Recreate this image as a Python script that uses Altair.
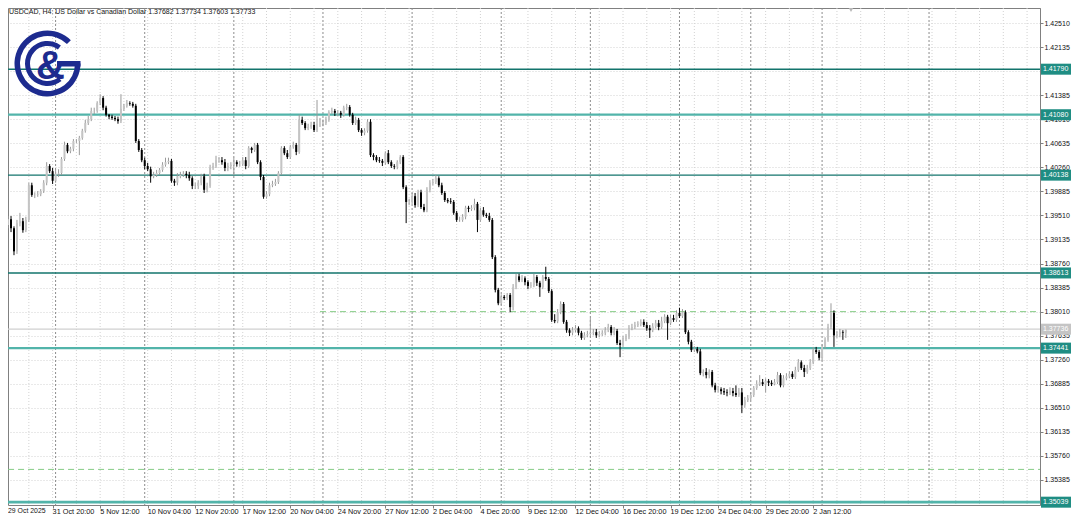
import altair as alt
import pandas as pd

# ---------------- data (USDCAD H4) ----------------
first_open = 1.3936
closes = [
    1.3945, 1.3931, 1.3895, 1.3939, 1.3942, 1.3928, 1.3944, 1.3998, 1.3983, 1.3983,
    1.3984, 1.3989, 1.4002, 1.4028, 1.4020, 1.4005, 1.4016, 1.4017, 1.4039, 1.4061,
    1.4051, 1.4055, 1.4067, 1.4067, 1.4072, 1.4083, 1.4095, 1.4101, 1.4114, 1.4114,
    1.4126, 1.4134, 1.4119, 1.4108, 1.4105, 1.4103, 1.4101, 1.4098, 1.4117, 1.4122,
    1.4126, 1.4125, 1.4122, 1.4067, 1.4053, 1.4037, 1.4028, 1.4023, 1.4012, 1.4014,
    1.4017, 1.4022, 1.4030, 1.4034, 1.4036, 1.4005, 1.4002, 1.4012, 1.4014, 1.4016,
    1.4014, 1.4009, 1.3997, 1.3997, 1.4002, 1.4012, 1.3991, 1.3997, 1.4025, 1.4028,
    1.4037, 1.4037, 1.4034, 1.4025, 1.4028, 1.4030, 1.4034, 1.4031, 1.4031, 1.4037,
    1.4028, 1.4056, 1.4053, 1.4061, 1.4034, 1.4011, 1.3980, 1.3984, 1.3998, 1.4000,
    1.4003, 1.4017, 1.4056, 1.4048, 1.4042, 1.4058, 1.4061, 1.4050, 1.4100, 1.4095,
    1.4087, 1.4089, 1.4092, 1.4084, 1.4094, 1.4094, 1.4095, 1.4100, 1.4112, 1.4114,
    1.4111, 1.4111, 1.4108, 1.4119, 1.4120, 1.4108, 1.4095, 1.4100, 1.4084, 1.4080,
    1.4083, 1.4097, 1.4045, 1.4042, 1.4037, 1.4036, 1.4033, 1.4048, 1.4034, 1.4028,
    1.4027, 1.4034, 1.4042, 1.3995, 1.3972, 1.3972, 1.3981, 1.3967, 1.3987, 1.3964,
    1.3959, 1.3991, 1.4002, 1.4003, 1.4009, 1.3998, 1.3986, 1.3975, 1.3973, 1.3972,
    1.3955, 1.3944, 1.3944, 1.3949, 1.3963, 1.3961, 1.3963, 1.3969, 1.3944, 1.3959,
    1.3952, 1.3950, 1.3944, 1.3886, 1.3835, 1.3814, 1.3824, 1.3822, 1.3827, 1.3808,
    1.3839, 1.3856, 1.3850, 1.3853, 1.3847, 1.3841, 1.3842, 1.3855, 1.3846, 1.3839,
    1.3855, 1.3852, 1.3833, 1.3788, 1.3786, 1.3800, 1.3813, 1.3785, 1.3772, 1.3768,
    1.3772, 1.3775, 1.3768, 1.3760, 1.3764, 1.3766, 1.3768, 1.3769, 1.3764, 1.3766,
    1.3768, 1.3772, 1.3777, 1.3768, 1.3771, 1.3752, 1.3749, 1.3758, 1.3761, 1.3775,
    1.3777, 1.3780, 1.3782, 1.3785, 1.3780, 1.3775, 1.3772, 1.3778, 1.3783, 1.3777,
    1.3786, 1.3793, 1.3783, 1.3791, 1.3788, 1.3799, 1.3794, 1.3800, 1.3769, 1.3754,
    1.3741, 1.3743, 1.3739, 1.3705, 1.3707, 1.3702, 1.3707, 1.3686, 1.3679, 1.3680,
    1.3677, 1.3675, 1.3674, 1.3677, 1.3674, 1.3671, 1.3675, 1.3655, 1.3663, 1.3666,
    1.3671, 1.3682, 1.3688, 1.3691, 1.3688, 1.3693, 1.3690, 1.3688, 1.3691, 1.3702,
    1.3686, 1.3697, 1.3700, 1.3704, 1.3699, 1.3710, 1.3722, 1.3713, 1.3707, 1.3713,
    1.3722, 1.3741, 1.3738, 1.3729, 1.3746, 1.3757, 1.3777, 1.3799, 1.3764, 1.3766,
    1.3769, 1.3768, 1.3773,
]
highs = [
    1.3950, 1.3950, 1.3934, 1.3944, 1.3955, 1.3947, 1.3949, 1.4002, 1.4002, 1.3987,
    1.3989, 1.3992, 1.4006, 1.4034, 1.4031, 1.4025, 1.4022, 1.4023, 1.4042, 1.4066,
    1.4064, 1.4058, 1.4070, 1.4070, 1.4075, 1.4086, 1.4100, 1.4106, 1.4119, 1.4119,
    1.4129, 1.4140, 1.4137, 1.4122, 1.4109, 1.4108, 1.4106, 1.4105, 1.4140, 1.4125,
    1.4131, 1.4129, 1.4128, 1.4125, 1.4070, 1.4056, 1.4041, 1.4033, 1.4027, 1.4019,
    1.4022, 1.4025, 1.4034, 1.4041, 1.4041, 1.4039, 1.4008, 1.4017, 1.4019, 1.4020,
    1.4020, 1.4019, 1.4012, 1.4002, 1.4006, 1.4016, 1.4016, 1.4002, 1.4030, 1.4033,
    1.4044, 1.4042, 1.4042, 1.4039, 1.4033, 1.4034, 1.4041, 1.4037, 1.4036, 1.4042,
    1.4042, 1.4059, 1.4058, 1.4064, 1.4064, 1.4037, 1.4014, 1.3989, 1.4002, 1.4005,
    1.4008, 1.4020, 1.4059, 1.4059, 1.4053, 1.4061, 1.4066, 1.4064, 1.4108, 1.4105,
    1.4098, 1.4094, 1.4097, 1.4097, 1.4131, 1.4103, 1.4100, 1.4105, 1.4115, 1.4119,
    1.4117, 1.4115, 1.4114, 1.4122, 1.4125, 1.4123, 1.4111, 1.4105, 1.4103, 1.4087,
    1.4087, 1.4101, 1.4101, 1.4048, 1.4045, 1.4042, 1.4039, 1.4051, 1.4053, 1.4037,
    1.4031, 1.4037, 1.4045, 1.4045, 1.3998, 1.3977, 1.3986, 1.3986, 1.3991, 1.3991,
    1.3969, 1.3995, 1.4006, 1.4008, 1.4014, 1.4012, 1.4002, 1.3989, 1.3978, 1.3978,
    1.3975, 1.3958, 1.3949, 1.3953, 1.3966, 1.3966, 1.3967, 1.3977, 1.3972, 1.3963,
    1.3964, 1.3955, 1.3955, 1.3947, 1.3889, 1.3838, 1.3828, 1.3827, 1.3830, 1.3830,
    1.3844, 1.3860, 1.3860, 1.3858, 1.3856, 1.3850, 1.3847, 1.3860, 1.3858, 1.3849,
    1.3858, 1.3871, 1.3855, 1.3836, 1.3797, 1.3805, 1.3817, 1.3816, 1.3788, 1.3775,
    1.3777, 1.3780, 1.3778, 1.3771, 1.3769, 1.3771, 1.3791, 1.3774, 1.3774, 1.3771,
    1.3772, 1.3777, 1.3782, 1.3780, 1.3777, 1.3774, 1.3757, 1.3763, 1.3766, 1.3780,
    1.3782, 1.3785, 1.3786, 1.3789, 1.3789, 1.3785, 1.3780, 1.3783, 1.3788, 1.3788,
    1.3793, 1.3797, 1.3796, 1.3796, 1.3796, 1.3803, 1.3807, 1.3805, 1.3803, 1.3772,
    1.3757, 1.3747, 1.3746, 1.3743, 1.3711, 1.3713, 1.3711, 1.3710, 1.3690, 1.3685,
    1.3683, 1.3682, 1.3680, 1.3683, 1.3682, 1.3686, 1.3682, 1.3682, 1.3668, 1.3671,
    1.3675, 1.3685, 1.3694, 1.3702, 1.3696, 1.3697, 1.3696, 1.3694, 1.3696, 1.3707,
    1.3705, 1.3702, 1.3705, 1.3708, 1.3708, 1.3715, 1.3727, 1.3725, 1.3718, 1.3718,
    1.3727, 1.3746, 1.3746, 1.3741, 1.3750, 1.3761, 1.3782, 1.3814, 1.3803, 1.3771,
    1.3774, 1.3772, 1.3773,
]
lows = [
    1.3931, 1.3925, 1.3889, 1.3891, 1.3934, 1.3924, 1.3925, 1.3941, 1.3980, 1.3978,
    1.3980, 1.3981, 1.3986, 1.3998, 1.4017, 1.4000, 1.4002, 1.4011, 1.4014, 1.4036,
    1.4048, 1.4048, 1.4051, 1.4064, 1.4045, 1.4069, 1.4080, 1.4092, 1.4098, 1.4109,
    1.4111, 1.4123, 1.4115, 1.4105, 1.4101, 1.4100, 1.4098, 1.4094, 1.4095, 1.4114,
    1.4119, 1.4122, 1.4119, 1.4064, 1.4050, 1.4034, 1.4023, 1.4020, 1.4002, 1.4009,
    1.4011, 1.4014, 1.4019, 1.4027, 1.4031, 1.4002, 1.3997, 1.3998, 1.4009, 1.4011,
    1.4009, 1.4005, 1.3992, 1.3992, 1.3992, 1.3998, 1.3986, 1.3987, 1.3994, 1.4022,
    1.4025, 1.4033, 1.4030, 1.4020, 1.4020, 1.4023, 1.4014, 1.4027, 1.4027, 1.4028,
    1.4023, 1.4025, 1.4048, 1.4050, 1.4031, 1.4006, 1.3977, 1.3977, 1.3981, 1.3995,
    1.3997, 1.4000, 1.4014, 1.4045, 1.4039, 1.4039, 1.4055, 1.4045, 1.4047, 1.4092,
    1.4084, 1.4084, 1.4086, 1.4081, 1.4081, 1.4089, 1.4090, 1.4092, 1.4097, 1.4109,
    1.4106, 1.4106, 1.4103, 1.4105, 1.4115, 1.4105, 1.4092, 1.4092, 1.4081, 1.4075,
    1.4076, 1.4080, 1.4042, 1.4037, 1.4034, 1.4033, 1.4028, 1.4030, 1.4031, 1.4025,
    1.4023, 1.4023, 1.4031, 1.3992, 1.3939, 1.3967, 1.3969, 1.3963, 1.3964, 1.3961,
    1.3956, 1.3956, 1.3987, 1.3998, 1.4000, 1.3995, 1.3983, 1.3972, 1.3970, 1.3969,
    1.3952, 1.3941, 1.3941, 1.3941, 1.3945, 1.3956, 1.3958, 1.3959, 1.3925, 1.3941,
    1.3949, 1.3947, 1.3941, 1.3883, 1.3831, 1.3811, 1.3811, 1.3819, 1.3819, 1.3800,
    1.3803, 1.3836, 1.3847, 1.3847, 1.3842, 1.3836, 1.3838, 1.3839, 1.3841, 1.3824,
    1.3836, 1.3849, 1.3830, 1.3785, 1.3783, 1.3783, 1.3797, 1.3782, 1.3768, 1.3763,
    1.3764, 1.3769, 1.3764, 1.3757, 1.3757, 1.3761, 1.3763, 1.3764, 1.3760, 1.3761,
    1.3763, 1.3764, 1.3769, 1.3764, 1.3764, 1.3749, 1.3730, 1.3746, 1.3755, 1.3758,
    1.3772, 1.3774, 1.3777, 1.3778, 1.3777, 1.3771, 1.3760, 1.3769, 1.3775, 1.3772,
    1.3774, 1.3783, 1.3757, 1.3780, 1.3785, 1.3785, 1.3791, 1.3791, 1.3766, 1.3750,
    1.3738, 1.3738, 1.3736, 1.3702, 1.3700, 1.3697, 1.3697, 1.3683, 1.3675, 1.3675,
    1.3672, 1.3671, 1.3669, 1.3671, 1.3669, 1.3668, 1.3668, 1.3643, 1.3651, 1.3660,
    1.3663, 1.3668, 1.3679, 1.3685, 1.3685, 1.3675, 1.3685, 1.3685, 1.3686, 1.3688,
    1.3683, 1.3683, 1.3694, 1.3697, 1.3696, 1.3696, 1.3707, 1.3710, 1.3699, 1.3704,
    1.3710, 1.3719, 1.3735, 1.3725, 1.3725, 1.3743, 1.3754, 1.3774, 1.3746, 1.3760,
    1.3761, 1.3757, 1.3760,
]

# time-axis labels (bar index of each label) and week separators (bar index)
time_label_idx = [15, 31, 47, 63, 79, 95, 111, 127, 143, 159, 175, 191, 207, 223, 239, 255, 271]
time_label_txt = ["31 Oct 20:00", "5 Nov 12:00", "10 Nov 04:00", "12 Nov 20:00",
                  "17 Nov 12:00", "20 Nov 04:00", "24 Nov 20:00", "27 Nov 12:00", "2 Dec 04:00",
                  "4 Dec 20:00", "9 Dec 12:00", "12 Dec 04:00", "16 Dec 20:00", "19 Dec 12:00",
                  "24 Dec 04:00", "29 Dec 20:00", "2 Jan 12:00"]
first_label = "29 Oct 2025"
week_sep_idx = [16, 46, 76, 106, 136, 166, 196, 226, 250, 274, 310]
grid_idx = [8 * k - 1 for k in range(1, 44)]

# price axis ticks
price_ticks = [1.42510, 1.42135, 1.41760, 1.41385, 1.41010, 1.40635, 1.40260, 1.39885,
               1.39510, 1.39135, 1.38760, 1.38385, 1.38010, 1.37635, 1.37260, 1.36885,
               1.36510, 1.36135, 1.35760, 1.35385]

# horizontal levels
level_price = [1.41790, 1.41080, 1.40138, 1.38613, 1.37441, 1.35039]
level_color = ["#13746c", "#52b4aa", "#13746c", "#13746c", "#52b4aa", "#52b4aa"]
level_width = [1.4, 2.2, 1.4, 1.4, 2.2, 2.8]
dashed_price = [1.38010, 1.35550]
dashed_start_idx = [105, 0]
bid_price = 1.37736

header = "USDCAD, H4:  US Dollar vs Canadian Dollar  1.37682 1.37734 1.37603 1.37733"

# ---------------- tables ----------------
opens = [first_open] + closes[:-1]
rows = []
for i, (o, h, l, c) in enumerate(zip(opens, highs, lows, closes)):
    bull = c >= o
    rows.append({
        "i": i, "open": o, "close": c,
        "high": max(h, o, c), "low": min(l, o, c),
        "body": "#c4c4c4" if bull else "#000000",
        "wick": "#9a9a9a" if bull else "#000000",
    })
candles = pd.DataFrame(rows)

levels = pd.DataFrame({
    "p": level_price, "col": level_color, "w": level_width,
    "t": [f"{p:.5f}" for p in level_price],
})
dashed = pd.DataFrame({"p": dashed_price, "x0": dashed_start_idx})
bid = pd.DataFrame({"p": [bid_price], "t": [f"{bid_price:.5f}"]})
tlabels = pd.DataFrame({"i": time_label_idx, "t": time_label_txt})
weeks = pd.DataFrame({"i": week_sep_idx})
vgrid = pd.DataFrame({"i": grid_idx})
one = pd.DataFrame({"a": [0]})

# ---------------- scales / axes ----------------
W, H = 1032, 497
X0 = 5 / 3
xscale = alt.Scale(domain=[X0, X0 + W / 3], nice=False, zero=False)
yscale = alt.Scale(domain=[1.34995, 1.42744], nice=False, zero=False)
FONT = "Liberation Sans"
FS = 7.0

yax = alt.Axis(orient="right", values=price_ticks, format=".5f", title=None,
               labelFont=FONT, labelFontSize=FS, labelColor="#111111",
               labelPadding=1, tickSize=3, tickColor="#808080",
               domainColor="#808080", grid=True, gridColor="#d2d2d2",
               gridDash=[1, 2], labelOverlap=False)
xax = alt.Axis(orient="bottom", values=time_label_idx, labels=False, title=None,
               tickSize=3, tickColor="#808080", domain=False, grid=False)


def X(f):
    return alt.X(f, type="quantitative", scale=xscale, axis=xax)


def Y(f):
    return alt.Y(f, type="quantitative", scale=yscale, axis=yax)


# ---------------- layers ----------------
grid_v = alt.Chart(vgrid).mark_rule(color="#d2d2d2", strokeDash=[1, 2], strokeWidth=1, clip=True).encode(
    x=X("i"), y=alt.value(0), y2=alt.value(H))

sep = alt.Chart(weeks).mark_rule(color="#8c8c8c", strokeDash=[2, 2], strokeWidth=1, clip=True).encode(
    x=X("i"), y=alt.value(0), y2=alt.value(H))

dash_l = alt.Chart(dashed).mark_rule(color="#86cc86", strokeDash=[6, 4], strokeWidth=1, clip=True).encode(
    x=X("x0"), x2=alt.value(W), y=Y("p"))

bid_l = alt.Chart(bid).mark_rule(color="#d0d0d0", strokeWidth=1.2).encode(
    x=alt.value(0), x2=alt.value(W), y=Y("p"))

lvl = alt.Chart(levels).mark_rule().encode(
    x=alt.value(0), x2=alt.value(W), y=Y("p"),
    color=alt.Color("col:N", scale=None), strokeWidth=alt.StrokeWidth("w:Q", scale=None))

wick = alt.Chart(candles).mark_rule(strokeWidth=1, clip=True).encode(
    x=X("i"), y=Y("low"), y2="high", color=alt.Color("wick:N", scale=None))

body = alt.Chart(candles).mark_bar(size=2, clip=True).encode(
    x=X("i"), y=Y("open"), y2="close", color=alt.Color("body:N", scale=None))

lvl_box = alt.Chart(levels).mark_rect(color="#1f8d83", yOffset=-5.5, y2Offset=5.5).encode(
    x=alt.value(W + 1), x2=alt.value(W + 31), y=Y("p"), y2="p")
lvl_txt = alt.Chart(levels).mark_text(align="left", baseline="middle", color="white",
                                      font=FONT, fontSize=FS).encode(
    x=alt.value(W + 3), y=Y("p"), text="t:N")

bid_box = alt.Chart(bid).mark_rect(color="#c4c4c4", yOffset=-5.5, y2Offset=5.5).encode(
    x=alt.value(W + 1), x2=alt.value(W + 31), y=Y("p"), y2="p")
bid_txt = alt.Chart(bid).mark_text(align="left", baseline="middle", color="white",
                                   font=FONT, fontSize=FS).encode(
    x=alt.value(W + 3), y=Y("p"), text="t:N")

tl = alt.Chart(tlabels).mark_text(align="left", baseline="top", color="#111111",
                                  font=FONT, fontSize=7.3, dy=3).encode(
    x=X("i"), y=alt.value(H), text="t:N")
tl0 = alt.Chart(one).mark_text(align="left", baseline="top", color="#111111",
                               font=FONT, fontSize=6.9, dy=3, text=first_label).encode(
    x=alt.value(0), y=alt.value(H))

head = alt.Chart(one).mark_text(align="left", baseline="top", color="#111111",
                                font=FONT, fontSize=7.0, text=header).encode(
    x=alt.value(1), y=alt.value(0))

shift_mark = alt.Chart(one).mark_point(shape="triangle-down", filled=True, color="#b8b8b8",
                                       size=45, opacity=1).encode(
    x=alt.value(843), y=alt.value(1))

NAVY = "#1d2b8f"
logo_outer = alt.Chart(one).mark_arc(color=NAVY, radius=33, radius2=27.5,
                                     theta=1.5708, theta2=7.0686, x=39.5, y=55.5).encode(
    opacity=alt.value(1))
logo_inner = alt.Chart(one).mark_arc(color=NAVY, radius=22.5, radius2=17.5,
                                     theta=2.47, theta2=6.92, x=39.5, y=55.5).encode(
    opacity=alt.value(1))
logo_bar = alt.Chart(one).mark_rect(color=NAVY).encode(
    x=alt.value(49), x2=alt.value(72.5), y=alt.value(53), y2=alt.value(58.5))
logo_amp = alt.Chart(one).mark_text(text="&", color=NAVY, font=FONT, fontWeight="bold",
                                    fontSize=40, align="center", baseline="middle").encode(
    x=alt.value(42.5), y=alt.value(58.5))

chart = alt.layer(
    grid_v, sep, dash_l, bid_l, lvl, wick, body,
    lvl_box, lvl_txt, bid_box, bid_txt, tl, tl0, head, shift_mark,
    logo_outer, logo_inner, logo_bar, logo_amp,
).properties(
    width=W, height=H,
    autosize=alt.AutoSizeParams(type="none"),
    padding={"left": 0, "top": 0, "right": 31, "bottom": 14},
    background="white",
).configure_view(stroke="#808080", strokeWidth=1)

chart.save("out.html", embed_options={"renderer": "svg", "actions": False})
